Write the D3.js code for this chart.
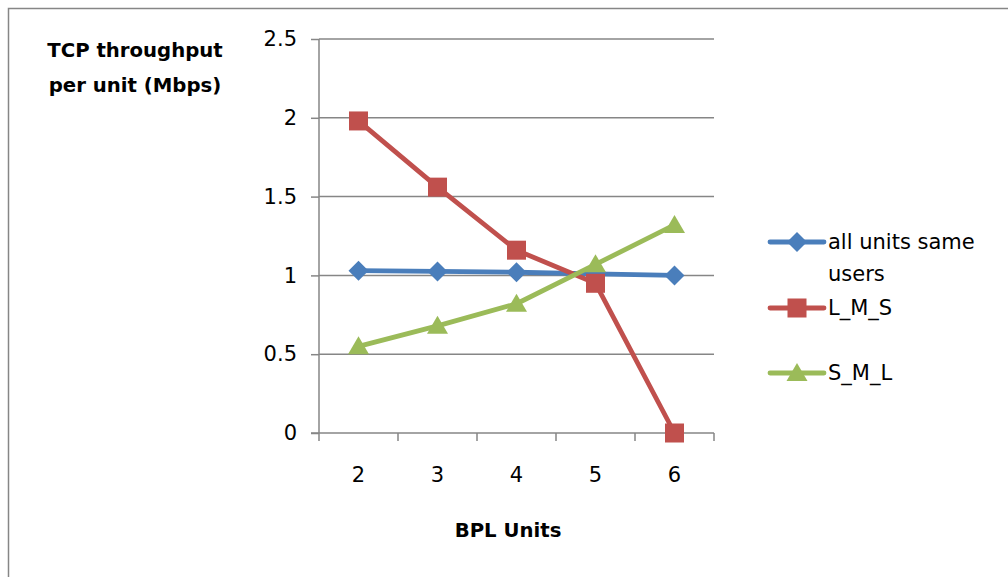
<!DOCTYPE html>
<html>
<head>
<meta charset="utf-8" />
<title>TCP throughput per unit</title>
<style type="text/css">
    body { margin: 0; background: #fff; }
    svg { display: block; }
    svg text { font-family: "DejaVu Sans", sans-serif; }
    .axis path, .axis line { stroke: #868686; stroke-width: 1.5px; }
    .axis text { fill: #000; font-size: 21px; font-family: "DejaVu Sans", sans-serif; }
    .grid line { stroke: #868686; stroke-width: 1.5px; }
    .title { font-weight: bold; font-size: 19.7px; fill: #000; }
    .legend text { font-size: 21px; fill: #000; }
</style>
<script src="https://d3js.org/d3.v7.min.js"></script>
</head>
<body>
<div id="chart"></div>
<script type="text/javascript">
var categories = ["2", "3", "4", "5", "6"];
var allSame = [1.03, 1.025, 1.02, 1.01, 1.0];
var lms = [1.98, 1.56, 1.16, 0.95, 0.0];
var sml = [0.55, 0.68, 0.82, 1.07, 1.32];
var yTicks = [0, 0.5, 1, 1.5, 2, 2.5];
var seriesNames = [["all units same", "users"], ["L_M_S"], ["S_M_L"]];

var width = 1008, height = 577;
var plotLeft = 319, plotRight = 714, plotTop = 39, plotBottom = 433;

var series = [
    { name: seriesNames[0], values: allSame, color: "#4A7EBB", shape: "diamond" },
    { name: seriesNames[1], values: lms, color: "#C0504D", shape: "square" },
    { name: seriesNames[2], values: sml, color: "#9BBB59", shape: "triangle" }
];

var svg = d3.select("#chart").append("svg")
    .attr("width", width)
    .attr("height", height);

// outer chart border (runs off the right and bottom edge)
svg.append("rect")
    .attr("x", 8.5).attr("y", 8.5)
    .attr("width", 1010).attr("height", 600)
    .attr("fill", "none")
    .attr("stroke", "#868686")
    .attr("stroke-width", 1.5);

var xScale = d3.scaleBand().domain(categories).range([plotLeft, plotRight]).padding(0);
var yScale = d3.scaleLinear().domain([0, 2.5]).range([plotBottom, plotTop]);

function cx(i) { return xScale(categories[i]) + xScale.bandwidth() / 2; }

// gridlines
svg.append("g").attr("class", "grid")
    .selectAll("line")
    .data(yTicks.filter(function (d) { return d > 0; }))
    .enter().append("line")
    .attr("x1", plotLeft).attr("x2", plotRight)
    .attr("y1", function (d) { return yScale(d); })
    .attr("y2", function (d) { return yScale(d); });

// y axis
var yAxis = d3.axisLeft(yScale).tickValues(yTicks).tickSize(8).tickPadding(14)
    .tickFormat(function (d) { return d; });
var yAxisG = svg.append("g").attr("class", "axis")
    .attr("transform", "translate(" + plotLeft + ",0)")
    .call(yAxis);
yAxisG.select(".domain").attr("d", "M0," + plotTop + "V" + plotBottom);

// x axis: labels at band centres, ticks at band edges
var xAxis = d3.axisBottom(xScale).tickSize(0).tickPadding(34);
var xAxisG = svg.append("g").attr("class", "axis")
    .attr("transform", "translate(0," + plotBottom + ")")
    .call(xAxis);
xAxisG.select(".domain").attr("d", "M" + (plotLeft - 8) + ",0H" + plotRight);
xAxisG.selectAll(".edge")
    .data(categories.concat(["end"]))
    .enter().append("line")
    .attr("class", "edge")
    .attr("x1", function (d, i) { return plotLeft + i * xScale.step(); })
    .attr("x2", function (d, i) { return plotLeft + i * xScale.step(); })
    .attr("y1", 0).attr("y2", 8);

// lines
var line = d3.line()
    .x(function (d, i) { return cx(i); })
    .y(function (d) { return yScale(d); });

function marker(sel, shape, color) {
    if (shape === "diamond") {
        sel.append("path").attr("d", "M0,-10L10,0L0,10L-10,0Z").attr("fill", color);
    } else if (shape === "square") {
        sel.append("rect").attr("x", -9.5).attr("y", -9.5)
            .attr("width", 19).attr("height", 19).attr("fill", color);
    } else {
        sel.append("path").attr("d", "M0,-10L10.5,8L-10.5,8Z").attr("fill", color);
    }
}

series.forEach(function (s) {
    svg.append("path")
        .datum(s.values)
        .attr("d", line)
        .attr("fill", "none")
        .attr("stroke", s.color)
        .attr("stroke-width", 4.8)
        .attr("stroke-linejoin", "round")
        .attr("stroke-linecap", "round");
});

series.forEach(function (s) {
    svg.selectAll(null)
        .data(s.values)
        .enter().append("g")
        .attr("transform", function (d, i) {
            return "translate(" + cx(i) + "," + yScale(d) + ")";
        })
        .each(function () { marker(d3.select(this), s.shape, s.color); });
});

// legend
var legendY = [242, 308, 373];
var legend = svg.append("g").attr("class", "legend");
series.forEach(function (s, i) {
    var g = legend.append("g").attr("transform", "translate(770," + legendY[i] + ")");
    g.append("line").attr("x1", 0).attr("x2", 54).attr("y1", 0).attr("y2", 0)
        .attr("stroke", s.color).attr("stroke-width", 4.8).attr("stroke-linecap", "round");
    var m = g.append("g").attr("transform", "translate(27,0)");
    marker(m, s.shape, s.color);
    s.name.forEach(function (t, j) {
        g.append("text").attr("x", 58).attr("y", j * 32).attr("dy", "0.35em").text(t);
    });
});

// titles
svg.append("text").attr("class", "title")
    .attr("x", 135).attr("y", 50).attr("dy", "0.35em")
    .attr("text-anchor", "middle").text("TCP throughput");
svg.append("text").attr("class", "title")
    .attr("x", 135).attr("y", 85).attr("dy", "0.35em")
    .attr("text-anchor", "middle").text("per unit (Mbps)");
svg.append("text").attr("class", "title")
    .attr("x", 508).attr("y", 530).attr("dy", "0.35em")
    .attr("text-anchor", "middle").text("BPL Units");
</script>
</body>
</html>
